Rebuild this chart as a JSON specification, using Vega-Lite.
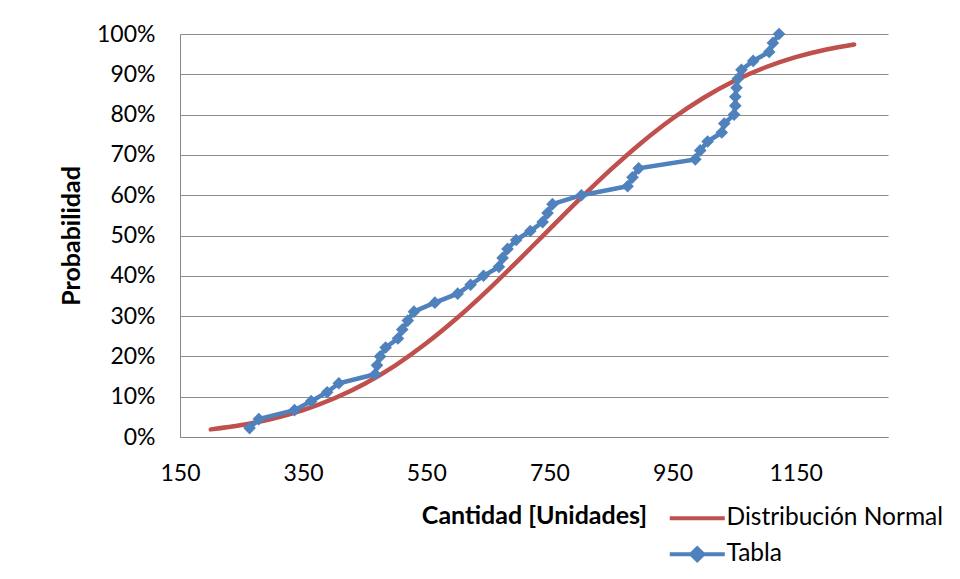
{
  "$schema": "https://vega.github.io/schema/vega-lite/v6.json",
  "width": 708,
  "height": 403,
  "autosize": "none",
  "padding": {"left": 180, "top": 34, "right": 72, "bottom": 142},
  "background": "white",
  "config": {
    "view": {"stroke": null},
    "font": "Lato",
    "axis": {"labelFont": "Lato", "titleFont": "Lato", "labelColor": "#000000", "titleColor": "#000000", "domainColor": "#868686", "gridColor": "#8C8C8C", "ticks": false, "tickSize": 0}
  },
  "datasets": {
    "normal": [
      {"serie": "Distribución Normal", "x": 200, "p": 0.0189},
      {"serie": "Distribución Normal", "x": 250, "p": 0.0297},
      {"serie": "Distribución Normal", "x": 300, "p": 0.0453},
      {"serie": "Distribución Normal", "x": 350, "p": 0.0668},
      {"serie": "Distribución Normal", "x": 400, "p": 0.0955},
      {"serie": "Distribución Normal", "x": 450, "p": 0.1323},
      {"serie": "Distribución Normal", "x": 500, "p": 0.1780},
      {"serie": "Distribución Normal", "x": 550, "p": 0.2325},
      {"serie": "Distribución Normal", "x": 600, "p": 0.2951},
      {"serie": "Distribución Normal", "x": 650, "p": 0.3646},
      {"serie": "Distribución Normal", "x": 700, "p": 0.4389},
      {"serie": "Distribución Normal", "x": 750, "p": 0.5153},
      {"serie": "Distribución Normal", "x": 800, "p": 0.5913},
      {"serie": "Distribución Normal", "x": 850, "p": 0.6639},
      {"serie": "Distribución Normal", "x": 900, "p": 0.7309},
      {"serie": "Distribución Normal", "x": 950, "p": 0.7904},
      {"serie": "Distribución Normal", "x": 1000, "p": 0.8413},
      {"serie": "Distribución Normal", "x": 1050, "p": 0.8834},
      {"serie": "Distribución Normal", "x": 1100, "p": 0.9169},
      {"serie": "Distribución Normal", "x": 1150, "p": 0.9426},
      {"serie": "Distribución Normal", "x": 1200, "p": 0.9616},
      {"serie": "Distribución Normal", "x": 1245, "p": 0.9741}
    ],
    "tabla": [
      {"serie": "Tabla", "x": 263, "p": 0.0222},
      {"serie": "Tabla", "x": 278, "p": 0.0444},
      {"serie": "Tabla", "x": 336, "p": 0.0667},
      {"serie": "Tabla", "x": 363, "p": 0.0889},
      {"serie": "Tabla", "x": 389, "p": 0.1111},
      {"serie": "Tabla", "x": 408, "p": 0.1333},
      {"serie": "Tabla", "x": 467, "p": 0.1556},
      {"serie": "Tabla", "x": 470, "p": 0.1778},
      {"serie": "Tabla", "x": 475, "p": 0.2000},
      {"serie": "Tabla", "x": 484, "p": 0.2222},
      {"serie": "Tabla", "x": 504, "p": 0.2444},
      {"serie": "Tabla", "x": 511, "p": 0.2667},
      {"serie": "Tabla", "x": 520, "p": 0.2889},
      {"serie": "Tabla", "x": 530, "p": 0.3111},
      {"serie": "Tabla", "x": 564, "p": 0.3333},
      {"serie": "Tabla", "x": 601, "p": 0.3556},
      {"serie": "Tabla", "x": 622, "p": 0.3778},
      {"serie": "Tabla", "x": 643, "p": 0.4000},
      {"serie": "Tabla", "x": 668, "p": 0.4222},
      {"serie": "Tabla", "x": 674, "p": 0.4444},
      {"serie": "Tabla", "x": 682, "p": 0.4667},
      {"serie": "Tabla", "x": 696, "p": 0.4889},
      {"serie": "Tabla", "x": 719, "p": 0.5111},
      {"serie": "Tabla", "x": 739, "p": 0.5333},
      {"serie": "Tabla", "x": 747, "p": 0.5556},
      {"serie": "Tabla", "x": 755, "p": 0.5778},
      {"serie": "Tabla", "x": 802, "p": 0.6000},
      {"serie": "Tabla", "x": 877, "p": 0.6222},
      {"serie": "Tabla", "x": 885, "p": 0.6444},
      {"serie": "Tabla", "x": 895, "p": 0.6667},
      {"serie": "Tabla", "x": 987, "p": 0.6889},
      {"serie": "Tabla", "x": 995, "p": 0.7111},
      {"serie": "Tabla", "x": 1007, "p": 0.7333},
      {"serie": "Tabla", "x": 1030, "p": 0.7556},
      {"serie": "Tabla", "x": 1034, "p": 0.7778},
      {"serie": "Tabla", "x": 1050, "p": 0.8000},
      {"serie": "Tabla", "x": 1052, "p": 0.8222},
      {"serie": "Tabla", "x": 1052, "p": 0.8444},
      {"serie": "Tabla", "x": 1054, "p": 0.8667},
      {"serie": "Tabla", "x": 1056, "p": 0.8889},
      {"serie": "Tabla", "x": 1062, "p": 0.9111},
      {"serie": "Tabla", "x": 1081, "p": 0.9333},
      {"serie": "Tabla", "x": 1107, "p": 0.9556},
      {"serie": "Tabla", "x": 1113, "p": 0.9778},
      {"serie": "Tabla", "x": 1123, "p": 1.0000}
    ]
  },
  "encoding": {
    "x": {
      "field": "x", "type": "quantitative",
      "scale": {"domain": [150, 1300], "nice": false, "zero": false},
      "axis": {"values": [150, 350, 550, 750, 950, 1150], "format": "d", "grid": false, "title": "Cantidad [Unidades]", "titleFontWeight": "bold", "titleFontSize": 25, "labelFontSize": 23, "labelPadding": 25, "titlePadding": 18, "labelFlush": false}
    },
    "y": {
      "field": "p", "type": "quantitative",
      "scale": {"domain": [0, 1], "nice": false},
      "axis": {"values": [0, 0.1, 0.2, 0.3, 0.4, 0.5, 0.6, 0.7, 0.8, 0.9, 1], "format": ".0%", "grid": true, "title": "Probabilidad", "titleFontWeight": "bold", "titleFontSize": 25, "labelFontSize": 23, "labelPadding": 25, "titlePadding": 12}
    },
    "color": {
      "field": "serie", "type": "nominal",
      "scale": {"domain": ["Distribución Normal", "Tabla"], "range": ["#C0504D", "#4F81BD"]},
      "legend": {
        "orient": "none", "legendX": 505, "legendY": 472, "title": null,
        "labelFont": "Lato", "labelFontSize": 24.5, "labelColor": "#000000", "labelLimit": 400,
        "symbolSize": 400, "labelOffset": 17, "rowPadding": 10,
        "encode": {"symbols": {"update": {
          "shape": {"signal": "datum.value === 'Tabla' ? 'M-2.75,0H2.75M-0.6,0L0,-0.6L0.6,0L0,0.6Z' : 'M-2.75,0H2.75'"},
          "fill": {"scale": "color", "field": "value"},
          "stroke": {"scale": "color", "field": "value"},
          "strokeWidth": {"value": 4},
          "opacity": {"value": 1}
        }}}
      }
    }
  },
  "layer": [
    {"data": {"name": "normal"}, "mark": {"type": "line", "strokeWidth": 4.5, "interpolate": "monotone", "strokeCap": "round"}},
    {"data": {"name": "tabla"}, "mark": {"type": "line", "strokeWidth": 4.5}},
    {"data": {"name": "tabla"}, "mark": {"type": "point", "shape": "diamond", "filled": true, "size": 160, "opacity": 1, "strokeWidth": 1}}
  ]
}
